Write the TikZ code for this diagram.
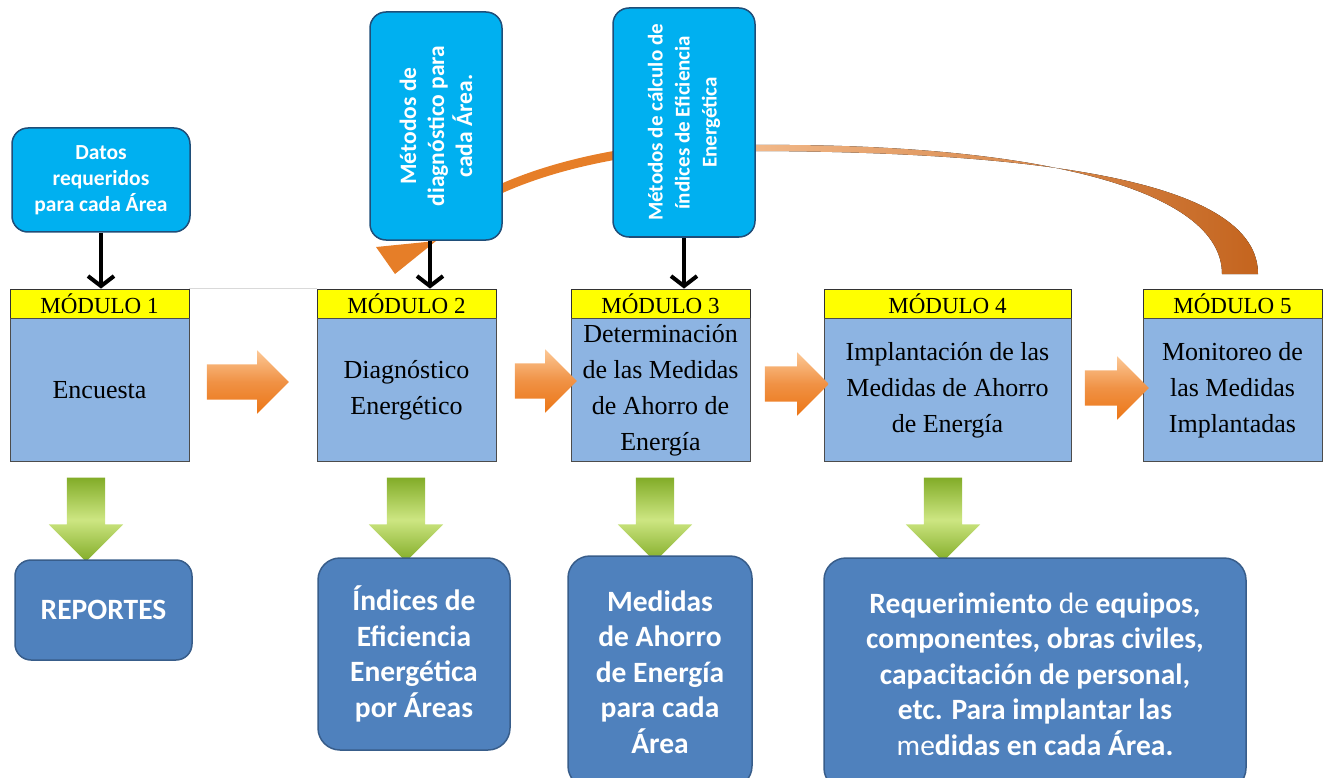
\documentclass[tikz,border=0pt]{standalone}
\usepackage{fontspec}
\setmainfont{Liberation Serif}
\newfontfamily\calibri{Carlito}
\usetikzlibrary{shapes.arrows, arrows.meta, positioning}
\definecolor{headyellow}{RGB}{255,255,0}
\definecolor{modblue}{RGB}{141,180,226}
\definecolor{inblue}{RGB}{0,176,240}
\definecolor{inborder}{RGB}{31,78,121}
\definecolor{outblue}{RGB}{79,129,189}
\definecolor{outborder}{RGB}{56,93,138}
\definecolor{arroworange}{RGB}{236,118,22}
\definecolor{arroworangelight}{RGB}{252,200,150}
\definecolor{arrowgreen}{RGB}{130,172,40}
\definecolor{arrowgreenlight}{RGB}{205,230,130}
\definecolor{curvebrown}{RGB}{196,100,30}
\definecolor{curveorange}{RGB}{230,126,40}

\begin{document}
\begin{tikzpicture}[x=1pt, y=-1pt]
  \tikzset{
    mod_head/.style={
      rectangle, draw=black!80, fill=headyellow, thick, minimum width=179, minimum height=29, inner sep=0pt,
      font=\fontsize{23}{26}\selectfont
    },
    mod_body/.style={
      rectangle, draw=black!70, fill=modblue, thick, minimum width=179, minimum height=143, inner sep=0pt,
      align=center, font=\fontsize{26}{36}\selectfont
    },
    in_box/.style={
      rectangle, rounded corners=16, draw=inborder, fill=inblue, line width=1.5pt, inner sep=0pt,
      align=center, text=white, font=\calibri\bfseries\fontsize{21.5}{26}\selectfont
    },
    out_box/.style={
      rectangle, rounded corners=22, draw=outborder, fill=outblue, line width=1.5pt, inner sep=0pt,
      align=center, text=white, font=\calibri\bfseries\fontsize{29.5}{35.5}\selectfont
    },
    flow_arrow/.style args={#1}{
      single arrow, single arrow head extend=14, inner xsep=0pt, inner ysep=17.5, minimum height=#1,
      top color=arroworangelight, bottom color=arroworange, middle color=arroworange!80!white
    },
    out_arrow/.style={
      single arrow, rotate=-90, single arrow head extend=18, inner xsep=0pt, inner ysep=19, minimum height=84,
      top color=arrowgreen, bottom color=arrowgreen, middle color=arrowgreenlight
    },
    feed_arrow/.style={-{Straight Barb[length=10, width=26]}, line width=4pt, black}
  }

  \useasboundingbox (0,0) rectangle (1325,778);

  % orange return curve, behind the input boxes
  \fill[left color=curveorange!55, right color=curvebrown] (755,145) .. controls (1040,143) and (1222,190) .. (1222,274)
    -- (1258,274) .. controls (1258,185) and (1060,152) .. (755,151) -- cycle;
  \draw[curveorange, line width=9pt] (650,150) .. controls (570,160) and (480,185) .. (425,238);
  \fill[curveorange] (376,247) -- (436,241) -- (395,274) -- cycle;

  % modules
  \node[mod_head] (h1) at (99.5,303.5) {MÓDULO 1};
  \node[mod_head] (h2) at (406.5,303.5) {MÓDULO 2};
  \node[mod_head] (h3) at (660.5,303.5) {MÓDULO 3};
  \node[mod_head, minimum width=247] (h4) at (947.5,303.5) {MÓDULO 4};
  \node[mod_head] (h5) at (1232.5,303.5) {MÓDULO 5};

  \node[mod_body, below=0pt of h1] (m1) {Encuesta};
  \node[mod_body, below=0pt of h2] (m2) {Diagnóstico\\Energético};
  \node[mod_body, below=0pt of h3] (m3) {Determinación\\de las Medidas\\de Ahorro de\\Energía};
  \node[mod_body, below=0pt of h4, minimum width=247] (m4) {Implantación de las\\Medidas de Ahorro\\de Energía};
  \node[mod_body, below=0pt of h5] (m5) {Monitoreo de\\las Medidas\\Implantadas};

  \draw[black!15, line width=1.5pt] (h1.north east) -- (h2.north west);

  % arrows between modules
  \node[flow_arrow=82] (a12) at (239,382) {};
  \node[flow_arrow=62] (a23) at (537,381) {};
  \node[flow_arrow=64] (a34) at (788,384) {};
  \node[flow_arrow=64] (a45) at (1108,388) {};

  % inputs
  \node[in_box, minimum width=178, minimum height=104] (in1) at (101,180) {Datos\\requeridos\\para cada Área};
  \node[in_box, rotate=90, minimum width=228, minimum height=132, font=\calibri\bfseries\fontsize{23.5}{28}\selectfont]
    (in2) at (436,126) {Métodos de\\diagnóstico para\\cada Área.};
  \node[in_box, rotate=90, minimum width=229, minimum height=142, font=\calibri\bfseries\fontsize{21}{27}\selectfont]
    (in3) at (684,122.5) {Métodos de cálculo de\\índices de Eficiencia\\Energética};

  \draw[feed_arrow] (in1.south) -- (in1.south |- h1.north);
  \draw[feed_arrow] ([xshift=-6]in2.west) -- ([xshift=-6]in2.west |- h2.north);
  \draw[feed_arrow] (in3.west) -- (in3.west |- h3.north);

  % results
  \node[out_arrow] (g1) at (86,510) {};
  \node[out_arrow] (g2) at (406,510) {};
  \node[out_arrow] (g3) at (655,510) {};
  \node[out_arrow] (g4) at (943,510) {};

  \node[out_box, rounded corners=16, minimum width=177, minimum height=100] (o1) at (103.5,610) {REPORTES};
  \node[out_box, minimum width=192, minimum height=192] (o2) at (414,654) {Índices de\\Eficiencia\\Energética\\por Áreas};
  \node[out_box, minimum width=184, minimum height=232] (o3) at (660,672) {Medidas\\de Ahorro\\de Energía\\para cada\\Área};
  \node[out_box, minimum width=422, minimum height=232] (o4) at (1035,674)
    {Requerimiento {\mdseries de} equipos,\\componentes, obras civiles,\\capacitación de personal,\\etc. Para implantar las\\{\mdseries me}didas en cada Área.};

\end{tikzpicture}
\end{document}
